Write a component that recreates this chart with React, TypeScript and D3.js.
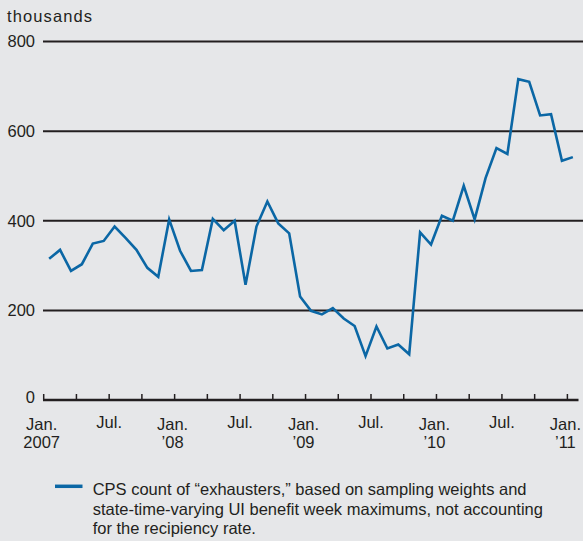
import React from 'react';
import * as d3 from 'd3';

// monthly values, Jan 2007 .. Jan 2011 (thousands)
const values = [
    315, 335, 288, 303, 349, 355, 387, 362, 335, 295, 275, 403,
    333, 288, 290, 404, 379, 400, 257, 387, 443, 394, 372, 231,
    199, 191, 205, 182, 165, 98, 164, 115, 124, 102, 374, 347,
    411, 400, 478, 403, 495, 562, 549, 716, 710, 635, 638, 534,
    542,
];
const yTicks = [0, 200, 400, 600, 800];
const xLabels = [
    { m: 0, l1: 'Jan.', l2: '2007' },
    { m: 6, l1: 'Jul.', l2: '' },
    { m: 12, l1: 'Jan.', l2: '\u201908' },
    { m: 18, l1: 'Jul.', l2: '' },
    { m: 24, l1: 'Jan.', l2: '\u201909' },
    { m: 30, l1: 'Jul.', l2: '' },
    { m: 36, l1: 'Jan.', l2: '\u201910' },
    { m: 42, l1: 'Jul.', l2: '' },
    { m: 48, l1: 'Jan.', l2: '\u201911' },
];
const legendLines = [
    'CPS count of \u201cexhausters,\u201d based on sampling weights and',
    'state-time-varying UI benefit week maximums, not accounting',
    'for the recipiency rate.',
];

const W = 583;
const H = 541;
const BG = '#e6e7e9';
const BLUE = '#0b67a5';
const INK = '#231f20';
const FONT = '"Liberation Sans", Arial, Helvetica, sans-serif';
const FS = 16.5;

const App = () => {
    const x = d3.scaleLinear([0, values.length], [43.7, 578.3]);
    const y = d3.scaleLinear([0, 800], [400, 41.5]);
    const line = d3
        .line<number>()
        .x((_, i) => x(i + 0.5))
        .y(d => y(d));
    const quarterTicks = d3.range(0, values.length, 3);

    return (
        <svg
            width={W}
            height={H}
            style={{ position: 'absolute', left: 0, top: 0 }}
            fontFamily={FONT}
        >
            <rect width={W} height={H} fill={BG} />
            <text x={7} y={21.5} fontSize={FS} fill={INK} textLength={85}>
                thousands
            </text>
            {yTicks.map(t => (
                <g key={t}>
                    {t > 0 && (
                        <line
                            x1={43}
                            x2={W}
                            y1={y(t)}
                            y2={y(t)}
                            stroke={INK}
                            strokeWidth={2}
                        />
                    )}
                    <text
                        x={35}
                        y={t === 0 ? y(t) - 3 : y(t)}
                        dy='0.36em'
                        textAnchor='end'
                        fontSize={FS}
                        fill={INK}
                    >
                        {t}
                    </text>
                </g>
            ))}
            {quarterTicks.map(m => (
                <line
                    key={m}
                    x1={x(m)}
                    x2={x(m)}
                    y1={394}
                    y2={400}
                    stroke={INK}
                    strokeWidth={1.5}
                />
            ))}
            <line
                x1={43}
                x2={578.5}
                y1={y(0)}
                y2={y(0)}
                stroke={INK}
                strokeWidth={2.5}
            />
            {xLabels.map(d => (
                <text
                    key={d.m}
                    x={x(d.m) - (d.l1 === 'Jan.' ? 2 : 0)}
                    textAnchor='middle'
                    fontSize={FS}
                    fill={INK}
                >
                    <tspan x={x(d.m) - (d.l1 === 'Jan.' ? 2 : 0)} y={d.l2 ? 430 : 428}>
                        {d.l1}
                    </tspan>
                    {d.l2 && (
                        <tspan x={x(d.m) - 2} y={448}>
                            {d.l2}
                        </tspan>
                    )}
                </text>
            ))}
            <path
                d={line(values) || ''}
                fill='none'
                stroke={BLUE}
                strokeWidth={2.6}
                strokeLinejoin='miter'
            />
            <line x1={55} x2={82.5} y1={486.3} y2={486.3} stroke={BLUE} strokeWidth={3.5} />
            {legendLines.map((t, i) => (
                <text key={i} x={92.7} y={495 + i * 19.5} fontSize={FS} fill={INK}>
                    {t}
                </text>
            ))}
        </svg>
    );
};

export default App;
